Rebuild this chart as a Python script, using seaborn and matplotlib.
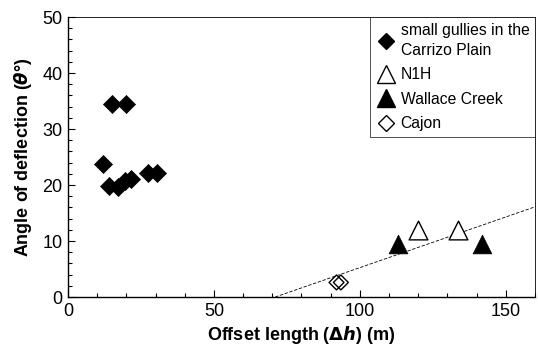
import matplotlib
matplotlib.use("Agg")
import matplotlib.pyplot as plt
import seaborn as sns
from matplotlib.lines import Line2D
from matplotlib.ticker import MultipleLocator

# Data
gully_x = [12, 14, 15, 17, 19.5, 20, 21.5, 27.5, 30.5]
gully_y = [23.8, 19.8, 34.5, 19.6, 20.7, 34.5, 21.0, 22.2, 22.2]
n1h_x = [120, 133.5]
n1h_y = [12.0, 12.0]
wallace_x = [113, 142]
wallace_y = [9.5, 9.5]
cajon_x = [92, 93.5]
cajon_y = [2.6, 2.6]
fit_x = [71, 160]
fit_y = [0.0, 16.1]

sns.set_theme(style="ticks")
plt.rcParams['font.family'] = ['Liberation Sans', 'DejaVu Sans']
plt.rcParams['text.color'] = 'black'
plt.rcParams['axes.labelcolor'] = 'black'

fig = plt.figure(figsize=(5.38, 3.5), dpi=100)
ax = fig.add_axes([0.1264, 0.1514, 0.8680, 0.8000])

sns.lineplot(x=fit_x, y=fit_y, ax=ax, color="black", lw=0.6,
             linestyle=(0, (4, 2)), zorder=1)
sns.scatterplot(x=gully_x, y=gully_y, ax=ax, marker="D", s=9.2**2,
                color="black", edgecolor="black", linewidth=0.5, zorder=3)
sns.scatterplot(x=n1h_x, y=n1h_y, ax=ax, marker="^", s=13.5**2,
                facecolor="white", edgecolor="black", linewidth=1.0, zorder=3)
sns.scatterplot(x=wallace_x, y=wallace_y, ax=ax, marker="^", s=13.5**2,
                color="black", edgecolor="black", linewidth=0.5, zorder=3)
sns.scatterplot(x=cajon_x, y=cajon_y, ax=ax, marker="D", s=7.6**2,
                facecolor="none", edgecolor="black", linewidth=1.0, zorder=3)

ax.set_xlim(0, 160)
ax.set_ylim(0, 50)
ax.xaxis.set_major_locator(MultipleLocator(50))
ax.xaxis.set_minor_locator(MultipleLocator(10))
ax.yaxis.set_major_locator(MultipleLocator(10))
ax.yaxis.set_minor_locator(MultipleLocator(2))
ax.tick_params(which="both", direction="in", color="black", width=0.8,
               labelsize=13, labelcolor="black", pad=4)
ax.tick_params(which="major", length=5)
ax.tick_params(which="minor", length=3)
for sp in ax.spines.values():
    sp.set_visible(True)
    sp.set_color("black")
    sp.set_linewidth(1.0)
ax.spines["top"].set_linewidth(0.6)
ax.spines["right"].set_linewidth(0.6)

ax.set_xlabel(r"Offset length ($\boldsymbol{\Delta h}$) (m)", fontsize=13,
              fontweight="bold", labelpad=3, color="black")
ax.set_ylabel(r"Angle of deflection ($\boldsymbol{\theta}$°)", fontsize=13,
              fontweight="bold", labelpad=6, color="black")

handles = [
    Line2D([], [], marker="D", ls="", color="black", markersize=8.5),
    Line2D([], [], marker="^", ls="", markerfacecolor="white",
           markeredgecolor="black", markersize=12.5, markeredgewidth=1.0),
    Line2D([], [], marker="^", ls="", color="black", markersize=12.5),
    Line2D([], [], marker="D", ls="", markerfacecolor="white",
           markeredgecolor="black", markersize=8.5, markeredgewidth=1.0),
]
labels = ["small gullies in the\nCarrizo Plain", "N1H", "Wallace Creek", "Cajon"]
leg = ax.legend(handles, labels, loc="upper right", bbox_to_anchor=(1.0, 1.0),
                fontsize=11.3, frameon=True, fancybox=False, borderaxespad=0,
                handletextpad=0.3, labelspacing=0.6, handlelength=1.3,
                borderpad=0.35)
leg.get_frame().set_edgecolor("black")
leg.get_frame().set_linewidth(0.6)
for t in leg.get_texts():
    t.set_color("black")
    t.set_linespacing(1.45)

fig.savefig("out.png", dpi=100)
